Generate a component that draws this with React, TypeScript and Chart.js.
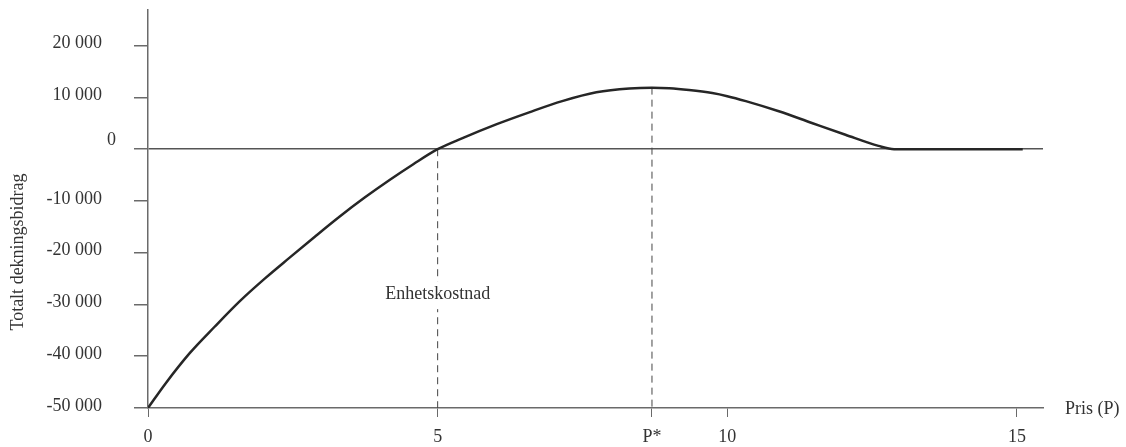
import React, { useEffect, useRef } from "react";
import { Chart, registerables } from "chart.js";

Chart.register(...registerables);

// Price (P) points and total contribution (Totalt dekningsbidrag)
const priceValues = [0, 0.3, 0.72, 1.15, 1.59, 2.02, 2.45, 2.88, 3.31, 3.74, 4.17, 4.58, 5, 5.43, 6.01, 6.58, 7.15, 7.74, 8.31, 8.7, 9.0, 9.34, 9.74, 10.0, 10.32, 10.89, 11.46, 12.04, 12.61, 12.88, 13.3, 14, 15.1];
const contributionValues = [-50000, -45300, -39400, -34300, -29300, -24950, -20900, -16900, -13000, -9350, -5950, -2900, 0, 2150, 4800, 7130, 9290, 11000, 11750, 11900, 11800, 11450, 10850, 10250, 9290, 7330, 5070, 2790, 640, 0, 0, 0, 0];

const unitCost = 5;
const optimalPrice = 8.7;
const optimalValue = 11900;

const xTickValues = [0, 5, 8.7, 10, 15];
const xTickLabels = ["0", "5", "P*", "10", "15"];
const yTickValues = [-50000, -40000, -30000, -20000, -10000, 0, 10000, 20000];

const xMin = 0;
const xMax = 15.45;
const yMin = -50000;
const yMax = 26900;

const xAxisTitle = "Pris (P)";
const yAxisTitle = "Totalt dekningsbidrag";
const unitCostLabel = "Enhetskostnad";
const unitCostLabelX = 5;
const unitCostLabelY = -28000;

const FONT = "'Liberation Serif', 'Times New Roman', serif";
const TEXT = "#333333";
const AXIS = "#6a6a6a";

function fmt(v: number): string {
  const s = Math.abs(v).toString().replace(/\B(?=(\d{3})+(?!\d))/g, " ");
  return (v < 0 ? "-" : "") + s;
}

const labelsPlugin = {
  id: "customLabels",
  afterDraw(chart: any) {
    const { ctx, chartArea, scales } = chart;
    ctx.save();
    ctx.fillStyle = TEXT;
    ctx.font = `18px ${FONT}`;
    ctx.textBaseline = "middle";

    // y tick labels
    ctx.textAlign = "right";
    yTickValues.forEach((v) => {
      const py = scales.y.getPixelForValue(v);
      if (v === 0) ctx.fillText(fmt(v), chartArea.left - 32, py - 9);
      else ctx.fillText(fmt(v), chartArea.left - 46, py - 2);
    });

    // x tick labels
    ctx.textAlign = "center";
    xTickValues.forEach((v, i) => {
      const px = scales.x.getPixelForValue(v);
      ctx.fillText(xTickLabels[i], px, chartArea.bottom + 29);
    });

    // x axis title
    ctx.textAlign = "left";
    ctx.fillText(xAxisTitle, chartArea.right + 22, chartArea.bottom + 1);

    // y axis title
    ctx.save();
    ctx.translate(18, 252);
    ctx.rotate(-Math.PI / 2);
    ctx.textAlign = "center";
    ctx.fillText(yAxisTitle, 0, 0);
    ctx.restore();

    // unit cost label over the dashed line
    const px = scales.x.getPixelForValue(unitCostLabelX);
    const py = scales.y.getPixelForValue(unitCostLabelY);
    const w = ctx.measureText(unitCostLabel).width;
    ctx.fillStyle = "#ffffff";
    ctx.fillRect(px - w / 2 - 2, py - 13, w + 4, 28);
    ctx.fillStyle = TEXT;
    ctx.textAlign = "center";
    ctx.fillText(unitCostLabel, px, py);
    ctx.restore();
  },
};

export default function App() {
  const ref = useRef<HTMLCanvasElement>(null);
  useEffect(() => {
    document.body.style.margin = "0";
    const curve = priceValues.map((p, i) => ({ x: p, y: contributionValues[i] }));
    const chart = new Chart(ref.current!, {
      type: "line",
      data: {
        datasets: [
          {
            data: curve,
            borderColor: "#262626",
            borderWidth: 2.5,
            pointRadius: 0,
            cubicInterpolationMode: "monotone",
            fill: false,
          },
          {
            data: [
              { x: unitCost, y: 0 },
              { x: unitCost, y: yMin },
            ],
            borderColor: "#444444",
            borderWidth: 1,
            borderDash: [7, 5],
            pointRadius: 0,
          },
          {
            data: [
              { x: optimalPrice, y: optimalValue },
              { x: optimalPrice, y: yMin },
            ],
            borderColor: "#444444",
            borderWidth: 1,
            borderDash: [7, 5],
            pointRadius: 0,
          },
        ],
      },
      options: {
        animation: false,
        responsive: false,
        parsing: false as any,
        layout: { autoPadding: false, padding: { top: 10, right: 83, left: 0, bottom: 0 } },
        plugins: { legend: { display: false }, tooltip: { enabled: false } },
        scales: {
          x: {
            type: "linear",
            min: xMin,
            max: xMax,
            afterBuildTicks: (s: any) => {
              s.ticks = xTickValues.map((v) => ({ value: v }));
            },
            afterFit: (s: any) => {
              s.height = 39;
            },
            ticks: { display: false, autoSkip: false, maxRotation: 0 },
            grid: { drawOnChartArea: false, drawTicks: true, tickLength: 9, color: AXIS, tickColor: AXIS },
            border: { display: true, color: AXIS, width: 1.5 },
          },
          y: {
            type: "linear",
            min: yMin,
            max: yMax,
            afterBuildTicks: (s: any) => {
              s.ticks = yTickValues.map((v) => ({ value: v }));
            },
            afterFit: (s: any) => {
              s.width = 148;
            },
            ticks: { display: false },
            grid: {
              drawOnChartArea: true,
              drawTicks: true,
              tickLength: 14,
              lineWidth: 1.5,
              color: (c: any) => (c.tick && c.tick.value === 0 ? "#555555" : "rgba(0,0,0,0)"),
              tickColor: AXIS,
            },
            border: { display: true, color: AXIS, width: 1.5 },
          },
        },
      },
      plugins: [labelsPlugin],
    });
    return () => chart.destroy();
  }, []);
  return (
    <div style={{ width: 1126, height: 447 }}>
      <canvas ref={ref} width={1126} height={447} />
    </div>
  );
}
